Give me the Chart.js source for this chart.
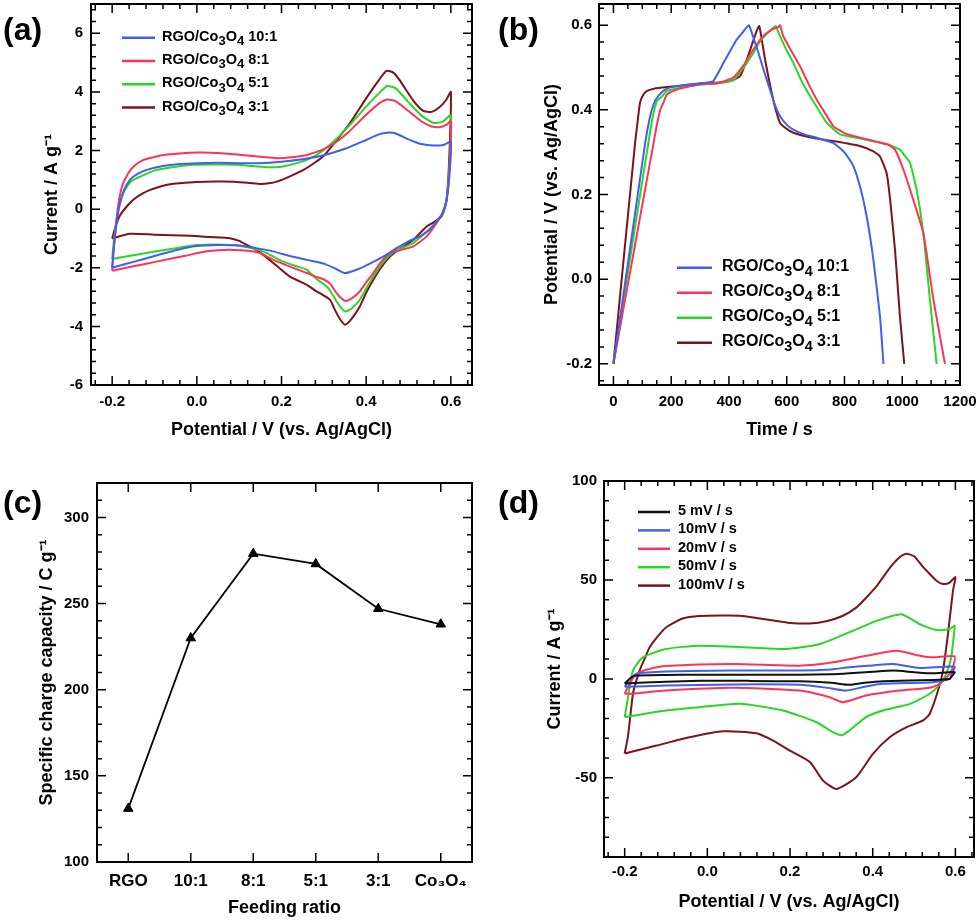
<!DOCTYPE html>
<html>
<head>
<meta charset="utf-8">
<script src="https://cdn.jsdelivr.net/npm/chart.js@4.4.1/dist/chart.umd.min.js"></script>
<style>
body { margin: 0; background: #fff; }
#fig { position: relative; width: 980px; height: 922px; overflow: hidden; background: #fff; }
#fig canvas { position: absolute; }
.tag { position: absolute; font: bold 32px 'Liberation Sans', Arial, sans-serif; line-height: 32px; color: #000; }
</style>
</head>
<body>
<div id="fig">
  <canvas id="ca" width="490" height="460" style="left:0px;top:0px"></canvas>
  <canvas id="cb" width="490" height="460" style="left:490px;top:0px"></canvas>
  <canvas id="cc" width="490" height="462" style="left:0px;top:460px"></canvas>
  <canvas id="cd" width="490" height="462" style="left:490px;top:460px"></canvas>
  <div class="tag" style="left:3px;top:13px">(a)</div>
  <div class="tag" style="left:498px;top:13px">(b)</div>
  <div class="tag" style="left:3px;top:486px">(c)</div>
  <div class="tag" style="left:498px;top:486px">(d)</div>
</div>
<script>
// ---- (a) CV of the four composites, potential (V) / current (A g-1)
const a10V = [-0.2,-0.196,-0.19,-0.183,-0.172,-0.158,-0.14,-0.118,-0.08,-0.04,0,0.05,0.1,0.15,0.2,0.25,0.3,0.35,0.4,0.43,0.45,0.47,0.5,0.53,0.56,0.585,0.6,
  0.597,0.59,0.58,0.565,0.548,0.53,0.5,0.47,0.44,0.41,0.38,0.35,0.33,0.3,0.26,0.22,0.18,0.14,0.1,0.05,0,-0.05,-0.1,-0.15,-0.2];
const a10I = [-2.0,-1.3,-0.5,0.1,0.65,1.0,1.2,1.34,1.47,1.54,1.57,1.58,1.57,1.57,1.62,1.7,1.84,2.06,2.36,2.55,2.61,2.58,2.38,2.22,2.17,2.2,2.3,
  1.2,0.3,-0.15,-0.45,-0.72,-0.9,-1.1,-1.35,-1.62,-1.85,-2.05,-2.18,-2.05,-1.86,-1.73,-1.6,-1.44,-1.33,-1.24,-1.22,-1.26,-1.4,-1.6,-1.8,-2.0];
const a8V = [-0.2,-0.196,-0.19,-0.184,-0.175,-0.163,-0.15,-0.126,-0.1,-0.079,-0.04,0,0.05,0.1,0.15,0.19,0.23,0.26,0.3,0.33,0.36,0.4,0.43,0.45,0.47,0.5,0.53,0.555,0.575,0.59,0.6,
  0.597,0.59,0.58,0.565,0.543,0.511,0.48,0.456,0.435,0.417,0.4,0.385,0.365,0.35,0.338,0.33,0.315,0.3,0.28,0.26,0.22,0.18,0.149,0.12,0.086,0.05,0.023,-0.03,-0.095,-0.15,-0.2];
const a8I = [-2.1,-1.3,-0.4,0.3,0.85,1.2,1.45,1.68,1.78,1.85,1.9,1.93,1.92,1.86,1.79,1.74,1.78,1.85,2.05,2.3,2.65,3.22,3.6,3.74,3.68,3.35,3.0,2.82,2.8,2.88,3.0,
  1.5,0.35,-0.15,-0.5,-0.93,-1.27,-1.4,-1.5,-1.8,-2.18,-2.5,-2.81,-3.05,-3.13,-3.0,-2.86,-2.55,-2.4,-2.3,-2.18,-1.96,-1.72,-1.5,-1.42,-1.39,-1.4,-1.44,-1.6,-1.79,-1.95,-2.1];
const a5V = [-0.2,-0.196,-0.19,-0.183,-0.172,-0.155,-0.134,-0.095,-0.05,-0.016,0.05,0.102,0.165,0.2,0.236,0.27,0.3,0.33,0.36,0.4,0.43,0.45,0.47,0.5,0.53,0.558,0.58,0.6,
  0.597,0.59,0.58,0.565,0.543,0.511,0.48,0.456,0.435,0.417,0.4,0.385,0.365,0.35,0.34,0.33,0.318,0.307,0.28,0.26,0.236,0.204,0.157,0.12,0.086,0,-0.05,-0.095,-0.15,-0.2];
const a5I = [-1.7,-1.1,-0.4,0.15,0.6,0.95,1.11,1.34,1.45,1.51,1.52,1.51,1.43,1.45,1.57,1.75,2.02,2.4,2.85,3.5,3.95,4.2,4.12,3.65,3.2,2.95,2.98,3.2,
  1.5,0.35,-0.15,-0.45,-0.76,-1.16,-1.35,-1.56,-1.9,-2.3,-2.7,-3.09,-3.4,-3.49,-3.35,-3.15,-2.85,-2.64,-2.35,-2.07,-1.95,-1.79,-1.45,-1.3,-1.22,-1.22,-1.33,-1.44,-1.57,-1.7];
const a3V = [-0.2,-0.19,-0.181,-0.165,-0.15,-0.13,-0.11,-0.08,-0.055,0,0.063,0.12,0.15,0.17,0.189,0.22,0.252,0.28,0.3,0.33,0.36,0.4,0.43,0.448,0.465,0.479,0.51,0.534,0.555,0.575,0.59,0.6,
  0.597,0.59,0.58,0.565,0.543,0.511,0.48,0.456,0.435,0.417,0.4,0.385,0.365,0.35,0.338,0.326,0.315,0.3,0.28,0.26,0.22,0.19,0.157,0.135,0.118,0.1,0.078,0.03,-0.016,-0.1,-0.158,-0.2];
const a3I = [-1.0,-0.5,-0.2,0.1,0.32,0.52,0.66,0.8,0.87,0.93,0.94,0.9,0.86,0.88,0.94,1.12,1.34,1.6,1.82,2.35,2.9,3.78,4.4,4.72,4.65,4.4,3.73,3.36,3.32,3.5,3.75,4.0,
  2.0,0.3,-0.2,-0.4,-0.59,-1.05,-1.35,-1.62,-2.0,-2.41,-2.85,-3.32,-3.75,-3.94,-3.75,-3.43,-3.1,-2.95,-2.78,-2.58,-2.3,-1.95,-1.56,-1.35,-1.22,-1.08,-0.99,-0.95,-0.91,-0.87,-0.84,-1.0];
const aXTicks = [-0.2, 0, 0.2, 0.4, 0.6];
const aYTicks = [-6, -4, -2, 0, 2, 4, 6];

// ---- (b) charge / discharge, time (s) / potential (V)
const b10T = [0,55,110,127,140,150,165,185,220,260,300,330,346,365,381,405,427,450,469,480,502,522,542,560,577,600,623,660,704,760,796,815,831,854,877,900,923,935];
const b10E = [-0.2,0.06,0.322,0.385,0.415,0.428,0.44,0.45,0.456,0.46,0.462,0.465,0.468,0.49,0.511,0.54,0.566,0.585,0.6,0.58,0.535,0.49,0.448,0.41,0.385,0.365,0.353,0.342,0.334,0.322,0.302,0.285,0.267,0.219,0.148,0.046,-0.088,-0.2];
const b8T = [0,70,139,152,162,175,185,220,260,300,360,415,450,485,520,550,570,577,588,615,646,675,704,735,762,800,850,950,975,1004,1038,1073,1108,1148];
const b8E = [-0.2,0.063,0.322,0.37,0.4,0.42,0.436,0.448,0.455,0.46,0.463,0.476,0.505,0.543,0.575,0.59,0.595,0.6,0.574,0.54,0.503,0.462,0.424,0.39,0.361,0.345,0.335,0.318,0.306,0.259,0.188,0.109,-0.049,-0.2];
const b5T = [0,60,121,135,150,170,185,230,300,360,415,440,462,485,508,535,562,570,577,600,623,650,681,710,739,785,850,950,992,1010,1027,1050,1073,1096,1119];
const b5E = [-0.2,0.06,0.322,0.38,0.42,0.433,0.444,0.452,0.46,0.463,0.47,0.49,0.511,0.535,0.562,0.582,0.598,0.585,0.574,0.54,0.511,0.47,0.432,0.4,0.369,0.342,0.333,0.318,0.306,0.29,0.275,0.211,0.109,-0.049,-0.2];
const b3T = [0,40,75,85,92,103,115,140,185,250,300,350,390,415,439,452,462,480,495,505,515,525,536,548,562,577,600,623,680,762,850,900,923,946,958,975,992,1007];
const b3E = [-0.2,0.08,0.322,0.38,0.417,0.435,0.444,0.45,0.454,0.458,0.462,0.464,0.466,0.47,0.48,0.5,0.519,0.555,0.585,0.598,0.56,0.519,0.48,0.44,0.4,0.369,0.355,0.346,0.335,0.326,0.315,0.302,0.29,0.25,0.188,0.069,-0.088,-0.2];
const bXTicks = [0, 200, 400, 600, 800, 1000, 1200];
const bYTicks = [-0.2, 0, 0.2, 0.4, 0.6];

// ---- (c) specific charge capacity vs feeding ratio
const cRatios = ['RGO', '10:1', '8:1', '5:1', '3:1', 'Co₃O₄'];
const cCapacity = [131, 230, 279, 273, 247, 238];
const cYTicks = [100, 150, 200, 250, 300];

// ---- (d) CV at different scan rates
const d5V = [-0.2,-0.185,-0.172,-0.1,-0.019,0.1,0.223,0.3,0.344,0.4,0.45,0.5,0.546,0.598,0.59,0.586,0.546,0.425,0.38,0.344,0.3,0.223,0.1,-0.019,-0.1,-0.2];
const d5I = [-2.3,0.6,1.7,2.0,2.1,2.1,2.1,2.3,2.8,3.6,4.2,3.4,2.8,3.4,1.0,0,-0.5,-1.2,-2.0,-3.0,-2.0,-1.2,-1.0,-1.0,-1.4,-2.3];
const d10V = [-0.2,-0.188,-0.172,-0.1,0.062,0.223,0.3,0.344,0.4,0.45,0.514,0.598,0.592,0.586,0.546,0.425,0.38,0.336,0.3,0.223,0.062,-0.1,-0.2];
const d10I = [-4.0,-0.3,2.5,3.7,4.2,4.2,4.8,5.9,6.8,7.5,5.5,6.2,3.0,0,-1.7,-2.5,-4.0,-5.9,-4.8,-3.0,-2.8,-3.4,-4.0];
const d20V = [-0.2,-0.188,-0.172,-0.14,-0.1,0.062,0.223,0.304,0.385,0.457,0.514,0.546,0.598,0.594,0.586,0.562,0.538,0.465,0.384,0.328,0.296,0.223,0.062,-0.1,-0.18,-0.2];
const d20I = [-7.5,-2.5,2.5,5.0,6.5,7.5,6.7,8.4,11.7,14.2,11.7,10.9,11.4,6.0,2.5,-2.5,-4.5,-5.9,-8.4,-11.8,-9.3,-5.9,-4.5,-5.9,-7.5,-7.5];
const d50V = [-0.2,-0.194,-0.188,-0.18,-0.156,-0.1,-0.019,0.102,0.191,0.272,0.352,0.409,0.469,0.514,0.554,0.586,0.598,
  0.594,0.59,0.578,0.563,0.538,0.49,0.425,0.384,0.344,0.324,0.304,0.263,0.183,0.078,-0.019,-0.1,-0.2];
const d50I = [-19.3,-12,-4,4.2,10.9,15.1,16.8,15.9,15.1,17.6,24.3,29.3,32.7,27.7,24.7,25.2,26.8,
  18,10.9,2.5,-2.5,-7.5,-12.6,-16,-19.3,-26,-28.5,-26.9,-21.8,-16,-12.6,-14.3,-16,-19.3];
const d100V = [-0.2,-0.192,-0.18,-0.172,-0.164,-0.15,-0.14,-0.12,-0.1,-0.06,-0.019,0.04,0.078,0.119,0.16,0.2,0.248,0.29,0.328,0.36,0.384,0.41,0.441,0.465,0.481,0.5,0.52,0.538,0.555,0.57,0.585,0.6,
  0.594,0.582,0.57,0.558,0.538,0.522,0.481,0.441,0.4,0.36,0.312,0.28,0.248,0.2,0.159,0.119,0.038,-0.043,-0.123,-0.2];
const d100I = [-37.7,-29,-7.5,-1,4.2,11,15.9,21.5,26,30.5,31.8,32,31.9,30.8,29.5,28.3,28.0,29.3,31.9,36,41,47,56,61.5,63.2,62,57,53,49.5,48,48.5,51.4,
  44.4,22.6,4.2,-5.9,-17.6,-21,-24.5,-29.5,-38,-49.7,-55.6,-51.4,-42,-36.3,-31.2,-27.5,-26.5,-29.5,-33.7,-37.7];
const dXTicks = [-0.2, 0, 0.2, 0.4, 0.6];
const dYTicks = [-50, 0, 50, 100];

const FONT = "'Liberation Sans', Arial, Helvetica, sans-serif";
const BLUE = '#3f5ff2', RED = '#ff3358', GREEN = '#26d826', DARK = '#7b1418', BLACK = '#111111';

function pts(xs, ys) {
  return xs.map((v, i) => ({x: v, y: ys[i]}));
}

function curve(label, xs, ys, color, tension) {
  return {label: label, data: pts(xs, ys), borderColor: color, backgroundColor: color,
    borderWidth: 2, pointRadius: 0, showLine: true, fill: false, tension: tension};
}

// frame round the plot area, with inward ticks on all four sides
const frameTicks = {
  id: 'frameTicks',
  afterDatasetsDraw(chart, args, opts) {
    const {ctx, chartArea: a} = chart;
    ctx.save();
    ctx.strokeStyle = '#000';
    ctx.lineWidth = 1.5;
    const mark = (s, v, len) => {
      const p = s.getPixelForValue(v);
      ctx.beginPath();
      if (s.isHorizontal()) {
        ctx.moveTo(p, a.bottom); ctx.lineTo(p, a.bottom - len);
        ctx.moveTo(p, a.top); ctx.lineTo(p, a.top + len);
      } else {
        ctx.moveTo(a.left, p); ctx.lineTo(a.left + len, p);
        ctx.moveTo(a.right, p); ctx.lineTo(a.right - len, p);
      }
      ctx.stroke();
    };
    [[chart.scales.x, opts.xMinor], [chart.scales.y, opts.yMinor]].forEach(([s, step]) => {
      const majors = s.ticks.map(t => t.value);
      majors.forEach(v => mark(s, v, 9));
      if (step) {
        for (let k = Math.ceil(s.min / step - 1e-6); k * step <= s.max + 1e-9; k++) {
          const v = k * step;
          if (!majors.some(m => Math.abs(m - v) < step / 10)) mark(s, v, 5);
        }
      }
    });
    ctx.lineWidth = 2;
    ctx.strokeRect(a.left, a.top, a.right - a.left, a.bottom - a.top);
    ctx.restore();
  }
};

// legend drawn inside the plot, subscript digits lowered
const SUB = '₀₁₂₃₄₅₆₇₈₉';
function richText(ctx, text, x, y, size) {
  for (const ch of text) {
    const k = SUB.indexOf(ch);
    if (k >= 0) {
      ctx.font = 'bold ' + (size * 0.9) + 'px ' + FONT;
      ctx.fillText(String(k), x, y + size * 0.32);
      x += ctx.measureText(String(k)).width;
    } else {
      ctx.font = 'bold ' + size + 'px ' + FONT;
      ctx.fillText(ch, x, y);
      x += ctx.measureText(ch).width;
    }
  }
}

const insideLegend = {
  id: 'insideLegend',
  afterDatasetsDraw(chart, args, o) {
    const ctx = chart.ctx;
    ctx.save();
    ctx.textBaseline = 'middle';
    ctx.fillStyle = '#000';
    chart.data.datasets.forEach((ds, i) => {
      const yy = o.y + i * o.gap;
      ctx.strokeStyle = ds.borderColor;
      ctx.lineWidth = 2.5;
      ctx.beginPath();
      ctx.moveTo(o.x, yy + 1);
      ctx.lineTo(o.x + o.len, yy + 1);
      ctx.stroke();
      richText(ctx, ds.label, o.tx, yy, o.size);
    });
    ctx.restore();
  }
};

function axis(o) {
  const s = {
    type: o.type || 'linear',
    offset: !!o.offset,
    afterFit: sc => {
      if (sc.isHorizontal()) sc.height = o.fit; else sc.width = o.fit;
      sc.paddingLeft = 0; sc.paddingRight = 0; sc.paddingTop = 0; sc.paddingBottom = 0;
    },
    grid: {display: false, drawTicks: false},
    border: {display: false},
    ticks: {color: '#000', font: {family: FONT, size: o.size || 15, weight: 'bold'},
      padding: o.pad, maxRotation: 0, minRotation: 0, autoSkip: false},
    title: {display: true, text: o.title, color: '#000', font: {family: FONT, size: 18, weight: 'bold'},
      padding: o.horiz ? {top: 0, bottom: o.tpad} : {top: o.tpad, bottom: 0}}
  };
  if (o.min !== undefined) { s.min = o.min; s.max = o.max; }
  if (o.list) s.afterBuildTicks = sc => { sc.ticks = o.list.map(v => ({value: v})); };
  if (o.fmt) s.ticks.callback = o.fmt;
  return s;
}

function basePlugins(minor, legend) {
  const p = {legend: {display: false}, tooltip: {enabled: false}, frameTicks: minor};
  if (legend) p.insideLegend = legend;
  return p;
}

const fix1 = v => Number(v).toFixed(1);
const whole = v => String(v);

// (a)
new Chart(document.getElementById('ca'), {
  type: 'scatter',
  data: {datasets: [
    curve('RGO/Co₃O₄ 10:1', a10V, a10I, BLUE, 0.2),
    curve('RGO/Co₃O₄ 8:1', a8V, a8I, RED, 0.2),
    curve('RGO/Co₃O₄ 5:1', a5V, a5I, GREEN, 0.2),
    curve('RGO/Co₃O₄ 3:1', a3V, a3I, DARK, 0.2)
  ]},
  options: {
    responsive: false, animation: false,
    layout: {padding: {left: 0, top: 4, right: 18, bottom: 0}},
    scales: {
      x: axis({horiz: true, min: -0.25, max: 0.65, list: aXTicks, fmt: fix1, fit: 75, pad: 7.7,
        title: 'Potential / V (vs. Ag/AgCl)', tpad: 19.2}),
      y: axis({min: -6, max: 7, list: aYTicks, fmt: whole, fit: 91, pad: 8,
        title: 'Current / A g⁻¹', tpad: 41.2})
    },
    plugins: basePlugins({xMinor: 0.04, yMinor: 0.4},
      {x: 122, len: 33, tx: 162, y: 36.7, gap: 23.3, size: 14.5})
  },
  plugins: [frameTicks, insideLegend]
});

// (b)
new Chart(document.getElementById('cb'), {
  type: 'scatter',
  data: {datasets: [
    curve('RGO/Co₃O₄ 10:1', b10T, b10E, BLUE, 0.15),
    curve('RGO/Co₃O₄ 8:1', b8T, b8E, RED, 0.15),
    curve('RGO/Co₃O₄ 5:1', b5T, b5E, GREEN, 0.15),
    curve('RGO/Co₃O₄ 3:1', b3T, b3E, DARK, 0.15)
  ]},
  options: {
    responsive: false, animation: false,
    layout: {padding: {left: 0, top: 4, right: 20, bottom: 0}},
    scales: {
      x: axis({horiz: true, min: -50, max: 1200, list: bXTicks, fmt: whole, fit: 75, pad: 7.7,
        title: 'Time / s', tpad: 19.2}),
      y: axis({min: -0.25, max: 0.65, list: bYTicks, fmt: fix1, fit: 109, pad: 7,
        title: 'Potential / V (vs. Ag/AgCl)', tpad: 51.2})
    },
    plugins: basePlugins({xMinor: 50, yMinor: 0.04},
      {x: 187, len: 35, tx: 232, y: 266.7, gap: 25, size: 16})
  },
  plugins: [frameTicks, insideLegend]
});

// (c)
new Chart(document.getElementById('cc'), {
  type: 'line',
  data: {
    labels: cRatios,
    datasets: [{label: 'capacity', data: cCapacity, borderColor: '#000', backgroundColor: '#000',
      borderWidth: 1.8, pointStyle: 'triangle', pointRadius: 5.5, pointBorderWidth: 1, tension: 0}]
  },
  options: {
    responsive: false, animation: false,
    layout: {padding: {left: 0, top: 23, right: 18, bottom: 0}},
    scales: {
      x: axis({horiz: true, type: 'category', offset: true, fit: 60, pad: 8.8, size: 17,
        title: 'Feeding ratio', tpad: 3.2}),
      y: axis({min: 100, max: 320, list: cYTicks, fmt: whole, fit: 97, pad: 8,
        title: 'Specific charge capacity / C g⁻¹', tpad: 36.2})
    },
    plugins: basePlugins({xMinor: null, yMinor: 10}, null)
  },
  plugins: [frameTicks]
});

// (d)
new Chart(document.getElementById('cd'), {
  type: 'scatter',
  data: {datasets: [
    curve('5 mV / s', d5V, d5I, BLACK, 0.2),
    curve('10mV / s', d10V, d10I, BLUE, 0.2),
    curve('20mV / s', d20V, d20I, RED, 0.2),
    curve('50mV / s', d50V, d50I, GREEN, 0.2),
    curve('100mV / s', d100V, d100I, DARK, 0.2)
  ]},
  options: {
    responsive: false, animation: false,
    layout: {padding: {left: 0, top: 21, right: 6, bottom: 0}},
    scales: {
      x: axis({horiz: true, min: -0.25, max: 0.645, list: dXTicks, fmt: fix1, fit: 65, pad: 6.3,
        title: 'Potential / V (vs. Ag/AgCl)', tpad: 9.2}),
      y: axis({min: -90, max: 100, list: dYTicks, fmt: whole, fit: 114, pad: 7,
        title: 'Current / A g⁻¹', tpad: 54.2})
    },
    plugins: basePlugins({xMinor: 0.04, yMinor: 10},
      {x: 148, len: 32, tx: 188, y: 51, gap: 18.4, size: 14.5})
  },
  plugins: [frameTicks, insideLegend]
});
</script>
</body>
</html>
